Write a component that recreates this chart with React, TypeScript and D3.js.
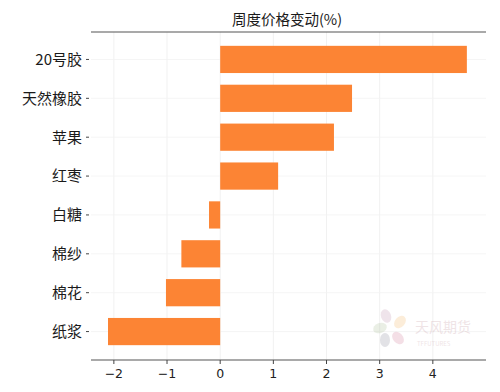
import { useEffect, useRef } from 'react';
import * as d3 from 'd3';

const categories = ['20号胶', '天然橡胶', '苹果', '红枣', '白糖', '棉纱', '棉花', '纸浆'];
const changes = [4.64, 2.48, 2.14, 1.09, -0.21, -0.73, -1.02, -2.11];
const xTicks = [-2, -1, 0, 1, 2, 3, 4];
const title = '周度价格变动(%)';

const W = 500;
const H = 392;
const BAR_COLOR = '#FC8434';
const FONT = '"Noto Sans CJK SC", "Noto Sans", sans-serif';

export default function App() {
  const svgRef = useRef<SVGSVGElement>(null);

  useEffect(() => {
    if (!svgRef.current) return;
    const svg = d3.select(svgRef.current);
    svg.selectAll('*').remove();

    const left = 91;
    const right = 486;
    const top = 32;
    const bottom = 360;

    const x = d3.scaleLinear().domain([-2.43, 5.0]).range([left, right]);
    const y = d3.scaleBand<string>().domain(categories).range([40, 351]).paddingInner(0.3).paddingOuter(0.15);

    // grid
    const grid = svg.append('g');
    grid.selectAll('line.vg')
      .data(xTicks)
      .join('line')
      .attr('x1', d => x(d)).attr('x2', d => x(d))
      .attr('y1', top).attr('y2', bottom)
      .attr('stroke', '#eeeeee').attr('stroke-width', 0.8);
    grid.selectAll('line.hg')
      .data(categories)
      .join('line')
      .attr('x1', left).attr('x2', right)
      .attr('y1', d => (y(d) ?? 0) + y.bandwidth() / 2)
      .attr('y2', d => (y(d) ?? 0) + y.bandwidth() / 2)
      .attr('stroke', '#f2f2f2').attr('stroke-width', 0.8);

    // watermark
    const wm = svg.append('g').attr('opacity', 0.28);
    const petals = [
      { dx: -6, dy: -12, c: '#c9a0b8', r: -20 },
      { dx: 8, dy: -6, c: '#f5c07a', r: 40 },
      { dx: -12, dy: 0, c: '#b5c7a5', r: 70 },
      { dx: -7, dy: 12, c: '#9a9aa8', r: 0 },
      { dx: 6, dy: 10, c: '#d98fa8', r: -40 },
    ];
    wm.selectAll('ellipse')
      .data(petals)
      .join('ellipse')
      .attr('cx', d => 392 + d.dx)
      .attr('cy', d => 328 + d.dy)
      .attr('rx', 5).attr('ry', 7)
      .attr('transform', d => `rotate(${d.r},${392 + d.dx},${328 + d.dy})`)
      .attr('fill', d => d.c);
    wm.append('text')
      .attr('x', 415).attr('y', 332)
      .attr('font-family', FONT).attr('font-size', 14)
      .attr('fill', '#c9a0a8')
      .text('天风期货');
    wm.append('text')
      .attr('x', 417).attr('y', 346)
      .attr('font-family', FONT).attr('font-size', 6)
      .attr('fill', '#c9a0a8')
      .text('TFFUTURES');

    // bars
    svg.append('g')
      .selectAll('rect')
      .data(categories)
      .join('rect')
      .attr('x', (_, i) => x(Math.min(0, changes[i])))
      .attr('y', d => y(d) ?? 0)
      .attr('width', (_, i) => Math.abs(x(changes[i]) - x(0)))
      .attr('height', y.bandwidth())
      .attr('fill', BAR_COLOR);

    // spines
    svg.append('line')
      .attr('x1', left).attr('x2', right).attr('y1', top).attr('y2', top)
      .attr('stroke', '#555').attr('stroke-width', 1.2);
    svg.append('line')
      .attr('x1', left).attr('x2', right).attr('y1', bottom).attr('y2', bottom)
      .attr('stroke', '#555').attr('stroke-width', 1.2);

    // x axis ticks
    const xa = svg.append('g');
    xa.selectAll('line')
      .data(xTicks)
      .join('line')
      .attr('x1', d => x(d)).attr('x2', d => x(d))
      .attr('y1', bottom).attr('y2', bottom + 4)
      .attr('stroke', '#444');
    xa.selectAll('text')
      .data(xTicks)
      .join('text')
      .attr('x', d => x(d))
      .attr('y', bottom + 18)
      .attr('text-anchor', 'middle')
      .attr('font-family', 'DejaVu Sans, sans-serif')
      .attr('font-size', 12.5)
      .attr('fill', '#222')
      .text(d => (d < 0 ? '\u2212' + Math.abs(d) : String(d)));

    // y axis labels
    const ya = svg.append('g');
    ya.selectAll('line')
      .data(categories)
      .join('line')
      .attr('x1', 86).attr('x2', 89)
      .attr('y1', d => (y(d) ?? 0) + y.bandwidth() / 2)
      .attr('y2', d => (y(d) ?? 0) + y.bandwidth() / 2)
      .attr('stroke', '#444');
    ya.selectAll('text')
      .data(categories)
      .join('text')
      .attr('x', 82)
      .attr('y', d => (y(d) ?? 0) + y.bandwidth() / 2)
      .attr('dy', '0.36em')
      .attr('text-anchor', 'end')
      .attr('font-family', FONT)
      .attr('font-size', 15)
      .attr('fill', '#1a1a1a')
      .text(d => d);

    svg.append('text')
      .attr('x', 287).attr('y', 25)
      .attr('text-anchor', 'middle')
      .attr('font-family', FONT)
      .attr('font-size', 14.5)
      .attr('fill', '#1a1a1a')
      .text(title);
  }, []);

  return (
    <div style={{ position: 'absolute', left: 0, top: 0, width: W, height: H, background: '#fff' }}>
      <svg ref={svgRef} width={W} height={H} />
    </div>
  );
}
